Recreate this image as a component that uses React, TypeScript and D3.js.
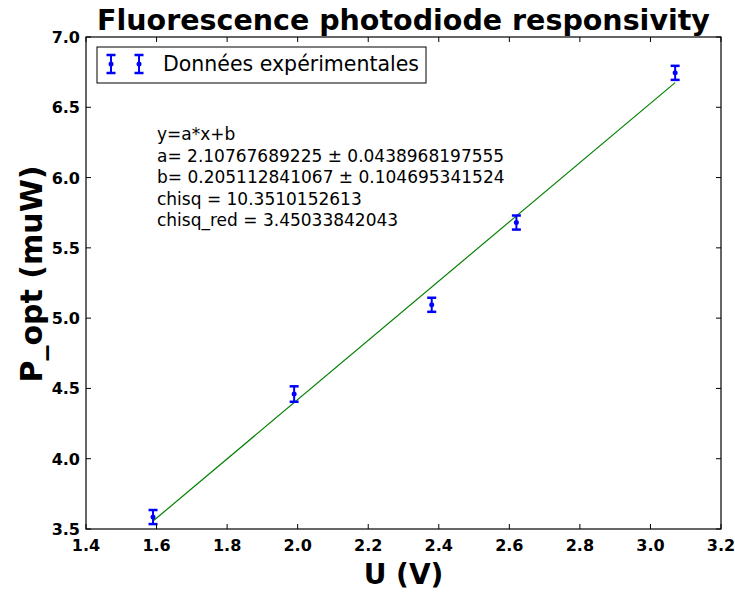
import React from "react";
import * as d3 from "d3";

// Measured photodiode points: voltage U (V), optical power P (µW), uncertainty
const voltages = [1.59, 1.99, 2.38, 2.62, 3.07];
const powers = [3.585, 4.46, 5.095, 5.68, 6.745];
const errors = [0.05, 0.055, 0.05, 0.05, 0.05];

// Linear fit result
const fitA = 2.10767689225;
const fitB = 0.205112841067;
const fitLines = [
  "y=a*x+b",
  "a= 2.10767689225 \u00b1 0.0438968197555",
  "b= 0.205112841067 \u00b1 0.104695341524",
  "chisq = 10.3510152613",
  "chisq_red = 3.45033842043",
];

const xTicks = [1.4, 1.6, 1.8, 2.0, 2.2, 2.4, 2.6, 2.8, 3.0, 3.2];
const yTicks = [3.5, 4.0, 4.5, 5.0, 5.5, 6.0, 6.5, 7.0];

const W = 735;
const H = 592;
const L = 86, R = 721, T = 37, B = 529;
const FONT = "'DejaVu Sans', sans-serif";

export default function App() {
  const x = d3.scaleLinear().domain([1.4, 3.2]).range([L, R]);
  const y = d3.scaleLinear().domain([3.5, 7.0]).range([B, T]);
  const xmin = d3.min(voltages)!;
  const xmax = d3.max(voltages)!;
  const fitPath = d3.line<number>()
    .x((d) => x(d))
    .y((d) => y(fitA * d + fitB))([xmin, xmax]);

  const tickLen = 5;
  const blue = "#0000ff";

  const errBar = (cx: number, cy: number, e: number, key: string) => (
    <g key={key}>
      <line x1={cx} x2={cx} y1={cy - e} y2={cy + e} stroke={blue} strokeWidth={2} />
      <line x1={cx - 4.5} x2={cx + 4.5} y1={cy - e} y2={cy - e} stroke={blue} strokeWidth={2.5} />
      <line x1={cx - 4.5} x2={cx + 4.5} y1={cy + e} y2={cy + e} stroke={blue} strokeWidth={2.5} />
      <circle cx={cx} cy={cy} r={2.5} fill={blue} />
    </g>
  );

  return (
    <svg width={W} height={H} style={{ position: "absolute", left: 0, top: 0, background: "#fff" }}>
      <rect x={0} y={0} width={W} height={H} fill="#fff" />
      <text x={(L + R) / 2} y={30} textAnchor="middle" fontFamily={FONT} fontWeight="bold" fontSize={28.5}>
        Fluorescence photodiode responsivity
      </text>

      {/* fit line */}
      <path d={fitPath ?? ""} fill="none" stroke="#008000" strokeWidth={1.2} />

      {/* data with error bars */}
      {voltages.map((u, i) =>
        errBar(x(u), y(powers[i]), y(powers[i] - errors[i]) - y(powers[i]), "p" + i)
      )}

      {/* frame */}
      <rect x={L} y={T} width={R - L} height={B - T} fill="none" stroke="#000" strokeWidth={1.2} />

      {/* ticks */}
      {xTicks.map((t) => (
        <g key={"xt" + t}>
          <line x1={x(t)} x2={x(t)} y1={B} y2={B - tickLen} stroke="#000" />
          <line x1={x(t)} x2={x(t)} y1={T} y2={T + tickLen} stroke="#000" />
          <text x={x(t)} y={551} textAnchor="middle" fontFamily={FONT} fontWeight="bold" fontSize={16}>
            {t.toFixed(1)}
          </text>
        </g>
      ))}
      {yTicks.map((t) => (
        <g key={"yt" + t}>
          <line x1={L} x2={L + tickLen} y1={y(t)} y2={y(t)} stroke="#000" />
          <line x1={R} x2={R - tickLen} y1={y(t)} y2={y(t)} stroke="#000" />
          <text x={L - 6} y={y(t) + 6} textAnchor="end" fontFamily={FONT} fontWeight="bold" fontSize={16}>
            {t.toFixed(1)}
          </text>
        </g>
      ))}

      {/* axis labels */}
      <text x={(L + R) / 2} y={584} textAnchor="middle" fontFamily={FONT} fontWeight="bold" fontSize={28}>
        U (V)
      </text>
      <text
        transform={`translate(42, ${(T + B) / 2 - 9}) rotate(-90)`}
        textAnchor="middle"
        fontFamily={FONT}
        fontWeight="bold"
        fontSize={30}
      >
        P_opt (muW)
      </text>

      {/* legend */}
      <rect x={97} y={47} width={329} height={36} fill="#fff" stroke="#000" strokeWidth={1} />
      {errBar(111, 64, 9, "lg1")}
      {errBar(139, 64, 9, "lg2")}
      <text x={163} y={71} fontFamily={FONT} fontSize={20.5}>
        Données expérimentales
      </text>

      {/* fit annotation */}
      {fitLines.map((s, i) => (
        <text key={"f" + i} x={157} y={140 + i * 21.6} fontFamily={FONT} fontSize={17}>
          {s}
        </text>
      ))}
    </svg>
  );
}
